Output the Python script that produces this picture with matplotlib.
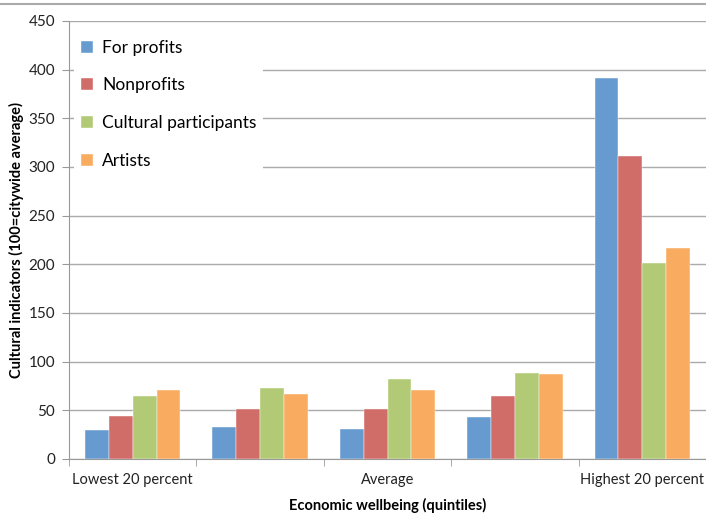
import matplotlib
matplotlib.use("Agg")
import matplotlib.pyplot as plt
import numpy as np
from matplotlib.lines import Line2D

categories = ["Lowest 20 percent", "", "Average", "", "Highest 20 percent"]
series_names = ["For profits", "Nonprofits", "Cultural participants", "Artists"]
for_profits = [30, 33, 31, 43, 391]
nonprofits = [44, 51, 51, 65, 311]
cultural_participants = [65, 73, 82, 88, 201]
artists = [71, 67, 71, 87, 217]
yticks = [0, 50, 100, 150, 200, 250, 300, 350, 400, 450]

colors = ["#679BD0", "#D16D68", "#B2CA76", "#F9AC60"]
values = [for_profits, nonprofits, cultural_participants, artists]

plt.rcParams['font.family'] = ['Lato', 'DejaVu Sans']

fig = plt.figure(figsize=(7.06, 5.15), dpi=100)
ax = fig.add_axes([69/706, 1-459/515, 637/706, 438/515])

x = np.arange(len(categories))
w = 0.187
for i, (vals, c, name) in enumerate(zip(values, colors, series_names)):
    ax.bar(x + (i - 1.5) * w, vals, width=w, color=c, label=name, zorder=3,
           edgecolor='white', linewidth=0.3)

ax.set_xlim(-0.5, len(categories) - 0.5)
ax.set_ylim(0, 450)
ax.set_yticks(yticks)
ax.set_yticklabels([str(v) for v in yticks], fontsize=11, color='#222222')
ax.yaxis.grid(True, color='#aaaaaa', linewidth=1.0, zorder=0)
ax.set_axisbelow(True)

ax.set_xticks(x)
ax.set_xticklabels(categories, fontsize=10.5, color='#222222')
ax.tick_params(axis='x', which='major', length=0, pad=10)
ax.set_xticks(np.arange(-0.5, len(categories) + 0.5, 1), minor=True)
ax.tick_params(axis='x', which='minor', length=5, color='#999999')
ax.tick_params(axis='y', length=5, color='#999999', pad=5)

for s in ['top', 'right']:
    ax.spines[s].set_visible(False)
ax.spines['left'].set_color('#999999')
ax.spines['bottom'].set_color('#999999')

ax.set_xlabel("Economic wellbeing (quintiles)", fontsize=10.5, fontweight='bold', labelpad=8)
ax.set_ylabel("Cultural indicators (100=citywide average)", fontsize=10.5, fontweight='bold', labelpad=3)

leg = ax.legend(loc='upper left', bbox_to_anchor=(0.0, 0.985), fontsize=12.5,
                frameon=True, facecolor='white', edgecolor='none', framealpha=1,
                fancybox=False, labelspacing=1.25, handlelength=0.7, handleheight=0.7,
                handletextpad=0.5, borderpad=0.4, borderaxespad=0.3)
leg.set_zorder(5)

fig.add_artist(Line2D([0, 1], [1 - 4/515, 1 - 4/515], transform=fig.transFigure,
                      color='#aaaaaa', linewidth=1.5))

fig.savefig("out.png", dpi=100)
